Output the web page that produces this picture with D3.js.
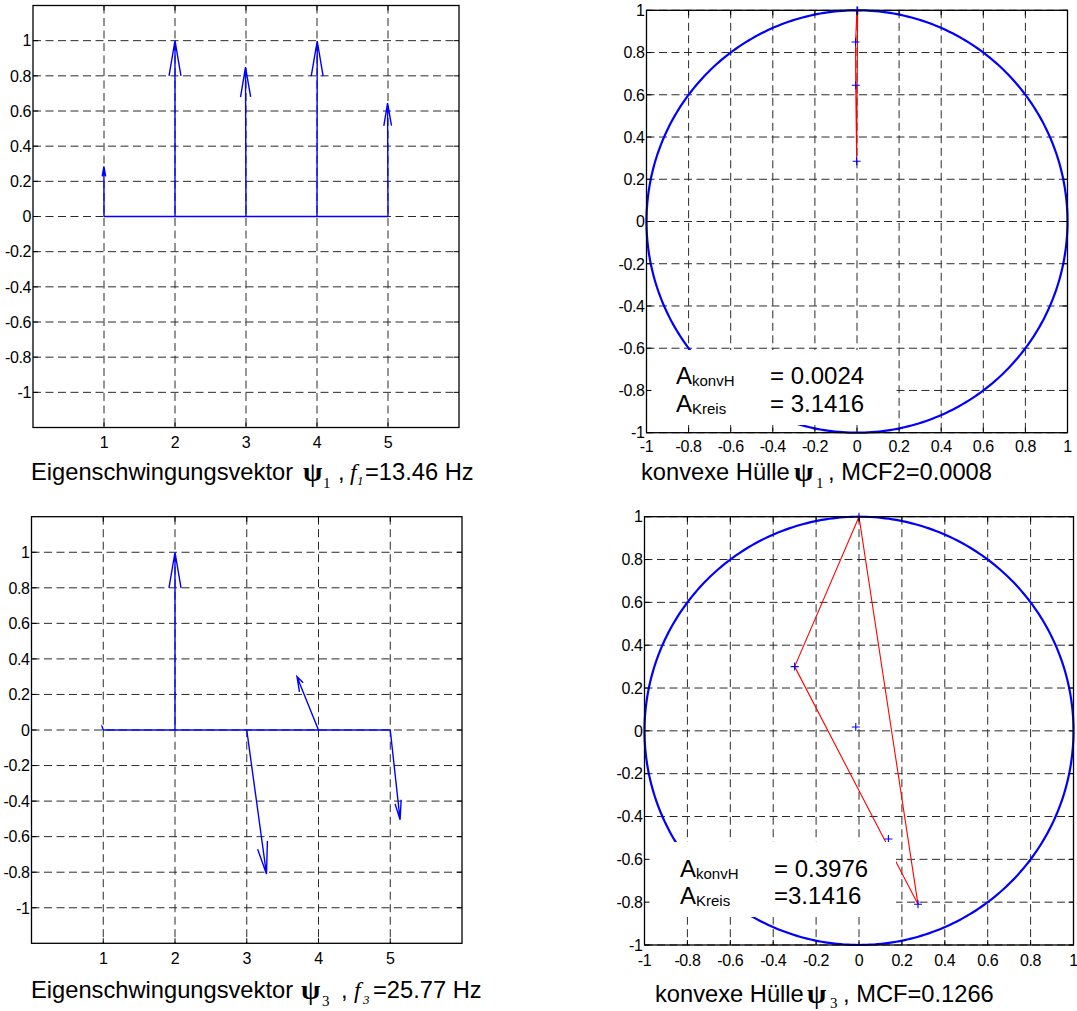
<!DOCTYPE html>
<html>
<head>
<meta charset="utf-8">
<script src="https://cdn.jsdelivr.net/npm/d3@7"></script>
<style>
  body { margin: 0; background: #fff; }
  svg { display: block; }
</style>
</head>
<body>
<svg id="fig" width="1077" height="1011"></svg>
<script>
// ---- mode shape data: complex components at the five measurement nodes ----
const nodes = [1, 2, 3, 4, 5];
const psi1Re = [-0.0015, 0, -0.007, 0.003, -0.006];
const psi1Im = [0.285, 1.0, 0.85, 0.998, 0.645];
const psi3Re = [-0.015, 0, 0.275, -0.30, 0.137];
const psi3Im = [0.018, 1.0, -0.81, 0.30, -0.505];

// ---- axis ticks ----
const vecXTicks = [1, 2, 3, 4, 5];
const vecYTicks = [-1, -0.8, -0.6, -0.4, -0.2, 0, 0.2, 0.4, 0.6, 0.8, 1];
const planeTicks = [-1, -0.8, -0.6, -0.4, -0.2, 0, 0.2, 0.4, 0.6, 0.8, 1];
const vecXDomain = [0, 6];
const vecYDomain = [-1.2, 1.2];
const planeDomain = [-1, 1];

// ---- annotation text ----
const areaLabels1 = ["= 0.0024", "= 3.1416"];
const areaLabels3 = ["= 0.3976", "=3.1416"];
const mcfLabel1 = ", MCF2=0.0008";
const mcfLabel3 = ", MCF=0.1266";
const freqLabel1 = "=13.46 Hz";
const freqLabel3 = "=25.77 Hz";

const SANS = "'Liberation Sans', Arial, Helvetica, sans-serif";
const SERIF = "'Liberation Serif', 'Times New Roman', serif";
const BLUE = "#0000ff";
const RED = "#ff0000";

const svg = d3.select("#fig");

const fmt = d => (Math.abs(d) < 1e-9 ? "0" : String(+d.toFixed(1)));

// Generic axes frame with dashed grid, inward ticks and tick labels
function makeAxes(box, xDom, yDom, xTicks, yTicks, labelGap) {
  const g = svg.append("g");
  const x = d3.scaleLinear().domain(xDom).range([box.l, box.r]);
  const y = d3.scaleLinear().domain(yDom).range([box.b, box.t]);
  const grid = g.append("g").attr("class", "grid");
  const data = g.append("g").attr("class", "data");
  const over = g.append("g").attr("class", "over");
  const axes = g.append("g").attr("class", "axes");

  grid.selectAll("line.gx").data(xTicks).join("line")
    .attr("x1", d => x(d)).attr("x2", d => x(d))
    .attr("y1", box.t).attr("y2", box.b)
    .attr("stroke", "#2a2a2a").attr("stroke-width", 1)
    .attr("stroke-dasharray", "8,4.5");
  grid.selectAll("line.gy").data(yTicks).join("line")
    .attr("y1", d => y(d)).attr("y2", d => y(d))
    .attr("x1", box.l).attr("x2", box.r)
    .attr("stroke", "#2a2a2a").attr("stroke-width", 1)
    .attr("stroke-dasharray", "8,4.5");

  const tl = 5;
  xTicks.forEach(d => {
    axes.append("line").attr("x1", x(d)).attr("x2", x(d)).attr("y1", box.b).attr("y2", box.b - tl)
      .attr("stroke", "#000").attr("stroke-width", 1);
    axes.append("line").attr("x1", x(d)).attr("x2", x(d)).attr("y1", box.t).attr("y2", box.t + tl)
      .attr("stroke", "#000").attr("stroke-width", 1);
  });
  yTicks.forEach(d => {
    axes.append("line").attr("y1", y(d)).attr("y2", y(d)).attr("x1", box.l).attr("x2", box.l + tl)
      .attr("stroke", "#000").attr("stroke-width", 1);
    axes.append("line").attr("y1", y(d)).attr("y2", y(d)).attr("x1", box.r).attr("x2", box.r - tl)
      .attr("stroke", "#000").attr("stroke-width", 1);
  });

  axes.append("rect")
    .attr("x", box.l).attr("y", box.t)
    .attr("width", box.r - box.l).attr("height", box.b - box.t)
    .attr("fill", "none").attr("stroke", "#000").attr("stroke-width", 1.3);

  axes.selectAll("text.xl").data(xTicks).join("text")
    .attr("x", d => x(d)).attr("y", box.b + labelGap)
    .attr("text-anchor", "middle")
    .style("font-family", SANS).style("font-size", "16px")
    .style("letter-spacing", "-0.4px")
    .text(fmt);
  axes.selectAll("text.yl").data(yTicks).join("text")
    .attr("x", box.l - 2).attr("y", d => y(d)).attr("dy", "0.36em")
    .attr("text-anchor", "end")
    .style("font-family", SANS).style("font-size", "16px")
    .style("letter-spacing", "-0.4px")
    .text(fmt);

  return { x, y, data, over, box };
}

// Quiver-style arrows from (node, 0) with components (u, v)
const headAlpha = 0.2, headBeta = 0.42;
function drawVectors(ax, re, im) {
  const { x, y, data } = ax;
  data.append("line")
    .attr("x1", x(nodes[0])).attr("x2", x(nodes[nodes.length - 1]))
    .attr("y1", y(0)).attr("y2", y(0))
    .attr("stroke", BLUE).attr("stroke-width", 1.4);
  nodes.forEach((n, i) => {
    const u = re[i], v = im[i];
    const tx = n + u, ty = v;
    const b1 = [tx - headAlpha * (u + headBeta * v), ty - headAlpha * (v - headBeta * u)];
    const b2 = [tx - headAlpha * (u - headBeta * v), ty - headAlpha * (v + headBeta * u)];
    const p = d3.path();
    p.moveTo(x(n), y(0)); p.lineTo(x(tx), y(ty));
    p.moveTo(x(b1[0]), y(b1[1])); p.lineTo(x(tx), y(ty)); p.lineTo(x(b2[0]), y(b2[1]));
    data.append("path").attr("d", p.toString())
      .attr("fill", "none").attr("stroke", BLUE).attr("stroke-width", 1.4)
      .attr("stroke-linejoin", "miter");
  });
}

// Complex plane: unit circle, convex hull of the components, markers, area box
function drawPlane(ax, re, im, labels, boxRect, textPos) {
  const { x, y, data, over } = ax;
  const angles = d3.range(0, 361, 1).map(a => a * Math.PI / 180);
  const circle = d3.line().x(a => x(Math.cos(a))).y(a => y(Math.sin(a)));
  data.append("path").attr("d", circle(angles))
    .attr("fill", "none").attr("stroke", BLUE).attr("stroke-width", 2.2);

  const pts = re.map((r, i) => [r, im[i]]);
  const hull = d3.polygonHull(pts.map(p => [p[0], p[1]]));
  const hullLine = d3.line().x(p => x(p[0])).y(p => y(p[1]));
  data.append("path").attr("d", hullLine(hull) + "Z")
    .attr("fill", "none").attr("stroke", RED).attr("stroke-width", 1.1);

  const m = 4;
  pts.forEach(p => {
    data.append("path")
      .attr("d", `M${x(p[0]) - m},${y(p[1])}H${x(p[0]) + m}M${x(p[0])},${y(p[1]) - m}V${y(p[1]) + m}`)
      .attr("stroke", BLUE).attr("stroke-width", 1.1).attr("fill", "none");
  });

  over.append("rect")
    .attr("x", boxRect.x).attr("y", boxRect.y)
    .attr("width", boxRect.w).attr("height", boxRect.h)
    .attr("fill", "#fff");

  const subs = ["konvH", "Kreis"];
  subs.forEach((s, i) => {
    const t = over.append("text")
      .attr("x", textPos.ax).attr("y", textPos.y0 + i * textPos.dy)
      .style("font-family", SANS).style("font-size", "24px");
    t.append("tspan").text("A");
    t.append("tspan").attr("dy", 2).style("font-size", "15px").text(s);
    over.append("text")
      .attr("x", textPos.eq).attr("y", textPos.y0 + i * textPos.dy)
      .style("font-family", SANS).style("font-size", "24px")
      .text(labels[i]);
  });
}

// Caption built from separately placed runs
function caption(parts) {
  const g = svg.append("g");
  parts.forEach(p => {
    g.append("text")
      .attr("x", p.x).attr("y", p.y)
      .style("font-family", p.serif ? SERIF : SANS)
      .style("font-size", p.size + "px")
      .style("font-weight", p.bold ? "bold" : "normal")
      .style("font-style", p.italic ? "italic" : "normal")
      .text(p.t);
  });
}

// ---- panels ----
const ax1 = makeAxes({ l: 33, r: 459, t: 5.5, b: 427.5 }, vecXDomain, vecYDomain, vecXTicks, vecYTicks, 20);
drawVectors(ax1, psi1Re, psi1Im);

const ax2 = makeAxes({ l: 646.5, r: 1067.5, t: 10.3, b: 432.7 }, planeDomain, planeDomain, planeTicks, planeTicks, 19.5);
drawPlane(ax2, psi1Re, psi1Im, areaLabels1,
  { x: 647.5, y: 350, w: 248.5, h: 75 }, { ax: 676, eq: 770, y0: 384, dy: 27.5 });

const ax3 = makeAxes({ l: 31.5, r: 462, t: 516.7, b: 943.3 }, vecXDomain, vecYDomain, vecXTicks, vecYTicks, 20.5);
drawVectors(ax3, psi3Re, psi3Im);

const ax4 = makeAxes({ l: 644.5, r: 1073.5, t: 516.7, b: 945 }, planeDomain, planeDomain, planeTicks, planeTicks, 21);
drawPlane(ax4, psi3Re, psi3Im, areaLabels3,
  { x: 645.5, y: 842, w: 250.5, h: 75 }, { ax: 680, eq: 774, y0: 877, dy: 26.5 });

// ---- captions ----
const CS = 23.7;
const PS = 28;
caption([
  { t: "Eigenschwingungsvektor", x: 31, y: 480, size: CS },
  { t: "ψ", x: 303, y: 481, size: PS, serif: true, bold: true },
  { t: "1", x: 323, y: 488, size: 15, serif: true },
  { t: ",", x: 338, y: 480, size: CS },
  { t: "f", x: 350, y: 480, size: CS, serif: true, italic: true },
  { t: "1", x: 357, y: 485, size: 13, serif: true, italic: true },
  { t: freqLabel1, x: 365, y: 480, size: CS }
]);
caption([
  { t: "konvexe Hülle", x: 641, y: 480, size: CS },
  { t: "ψ", x: 794, y: 481, size: PS, serif: true, bold: true },
  { t: "1", x: 816, y: 488, size: 15, serif: true },
  { t: mcfLabel1, x: 828, y: 480, size: CS }
]);
caption([
  { t: "Eigenschwingungsvektor", x: 31, y: 998, size: CS },
  { t: "ψ", x: 301, y: 999, size: PS, serif: true, bold: true },
  { t: "3", x: 322, y: 1006, size: 15, serif: true },
  { t: ",", x: 341, y: 998, size: CS },
  { t: "f", x: 354, y: 998, size: CS, serif: true, italic: true },
  { t: "3", x: 363, y: 1004, size: 13, serif: true, italic: true },
  { t: freqLabel3, x: 373, y: 998, size: CS }
]);
caption([
  { t: "konvexe Hülle", x: 655, y: 1001.5, size: CS },
  { t: "ψ", x: 807, y: 1002.5, size: PS, serif: true, bold: true },
  { t: "3", x: 830, y: 1008, size: 15, serif: true },
  { t: mcfLabel3, x: 843, y: 1001.5, size: CS }
]);
</script>
</body>
</html>
